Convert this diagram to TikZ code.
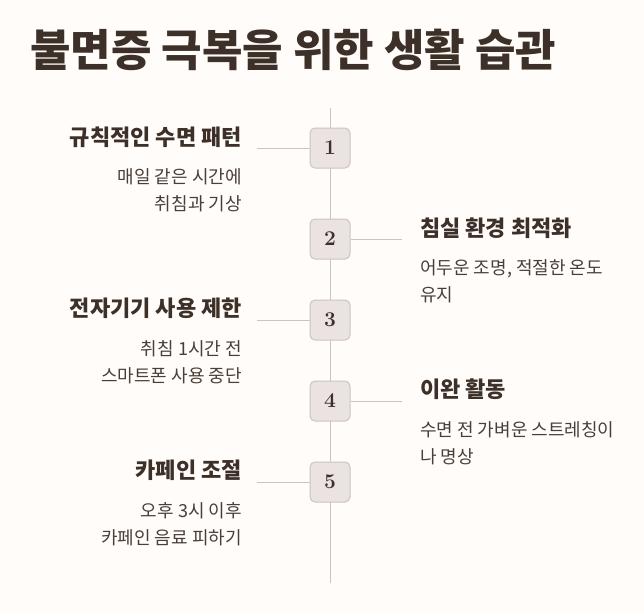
\documentclass[tikz,border=0pt]{standalone}
\usepackage{fontspec}
\newfontfamily\kr{Noto Sans CJK KR}
\definecolor{bg}{HTML}{FFFCF9}
\definecolor{ink}{HTML}{3D3028}
\definecolor{body}{HTML}{4A3F38}
\definecolor{ln}{HTML}{CBC3C1}
\definecolor{boxf}{HTML}{EAE3E1}
\tikzset{
 num/.style={draw=ln,fill=boxf,rounded corners=5pt,minimum size=40pt,inner sep=0pt,font=\bfseries\fontsize{21}{21}\selectfont,text=ink,line width=1pt},
 headl/.style={anchor=east,font=\kr\bfseries\fontsize{22}{24}\selectfont,text=ink,inner sep=0pt},
 headr/.style={anchor=west,font=\kr\bfseries\fontsize{22}{24}\selectfont,text=ink,inner sep=0pt},
 bodyl/.style={anchor=north east,align=right,font=\kr\fontsize{18}{27}\selectfont,text=body,inner sep=0pt},
 bodyr/.style={anchor=north west,align=left,font=\kr\fontsize{18}{27}\selectfont,text=body,inner sep=0pt},
 conn/.style={draw=ln,line width=1pt}
}
\begin{document}
\begin{tikzpicture}[x=1pt,y=-1pt]
\fill[bg] (0,0) rectangle (644,613);
\useasboundingbox (0,0) rectangle (644,613);
\node[anchor=west,font=\kr\bfseries\fontsize{44}{48}\selectfont,text=ink,inner sep=0pt] (title) at (30,50) {불면증 극복을 위한 생활 습관};
\coordinate (top) at (330,108);
\coordinate (bot) at (330,583);
\draw[conn] (top) -- (bot);
\node[num] (n1) at (330,148) {1};
\node[num] (n2) at (330,239) {2};
\node[num] (n3) at (330,320) {3};
\node[num] (n4) at (330,401) {4};
\node[num] (n5) at (330,482) {5};
\coordinate (c1) at (257,148);
\coordinate (c2) at (402,239);
\coordinate (c3) at (257,320);
\coordinate (c4) at (402,401);
\coordinate (c5) at (257,482);
\draw[conn] (n1.west) -- (c1);
\draw[conn] (n2.east) -- (c2);
\draw[conn] (n3.west) -- (c3);
\draw[conn] (n4.east) -- (c4);
\draw[conn] (n5.west) -- (c5);
\node[headl] (h1) at (242,137) {규칙적인 수면 패턴};
\node[bodyl] (b1) at (242,168) {매일 같은 시간에\\취침과 기상};
\node[headr] (h2) at (420,228) {침실 환경 최적화};
\node[bodyr] (b2) at (420,259) {어두운 조명, 적절한 온도\\유지};
\node[headl] (h3) at (242,308) {전자기기 사용 제한};
\node[bodyl] (b3) at (242,340) {취침 1시간 전\\스마트폰 사용 중단};
\node[headr] (h4) at (420,389) {이완 활동};
\node[bodyr] (b4) at (420,421) {수면 전 가벼운 스트레칭이\\나 명상};
\node[headl] (h5) at (242,470) {카페인 조절};
\node[bodyl] (b5) at (242,502) {오후 3시 이후\\카페인 음료 피하기};
\end{tikzpicture}
\end{document}
